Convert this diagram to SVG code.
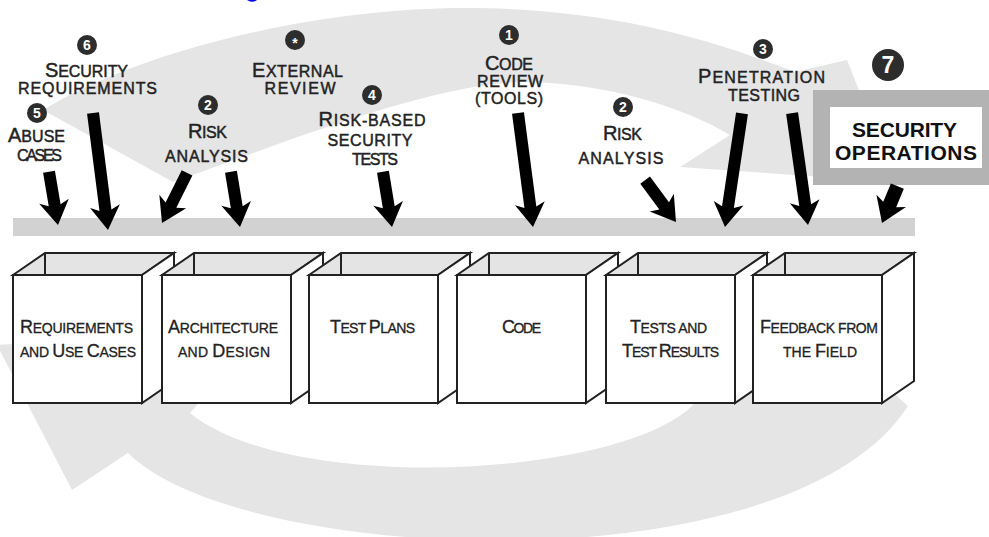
<svg xmlns="http://www.w3.org/2000/svg" width="989" height="537" viewBox="0 0 989 537">
<style>
  text { font-family: "Liberation Sans", Arial, sans-serif; fill: #222; }
  .lbl { font-size: 16px; text-anchor: middle; stroke: #222; stroke-width: 0.45px; }
  .bc { font-size: 20px; }
  .blbl { font-size: 14px; text-anchor: middle; stroke: #222; stroke-width: 0.3px; }
  .bb { font-size: 18px; }
  .band { fill: #e5e5e5; }
  .bar { fill: #d2d2d2; }
  .top { fill: #e4e4e4; stroke: #222; stroke-width: 2; stroke-linejoin: miter; }
  .face { fill: #fff; stroke: #222; stroke-width: 2; stroke-linejoin: miter; }
  .edge { stroke: #222; stroke-width: 2; }
  .num { fill: #2d2d2d; }
  .numt { fill: #fff; font-size: 14px; font-weight: bold; text-anchor: middle; }
  .arr { fill: #000; }
  .ops { font-size: 21px; font-weight: bold; text-anchor: middle; fill: #111; }
</style>

<g id="background">
  <path class="band" d="M43,110 C150,45 330,8 463,8 C600,8 700,35 795,72 L847,60 L895,182 L680,167 L730,135 C680,105 600,82 520,82 C430,85 290,140 173,182 Z"/>
  <path class="band" d="M-3,345 L72,490 L128,453 C240,565 790,590 908,406 L890,390 L700,390 L693,405 C620,478 290,495 190,413 L262,330 Z"/>
  <rect class="bar" x="13" y="218" width="902" height="18"/>
  <path d="M247,0 Q252,3.5 257,0 Z" fill="#0000ee"/>
</g>

<g id="box-requirements">
  <polygon class="top" points="13,275 45,253 174,253 142,275"/>
  <line class="edge" x1="45" y1="253" x2="45" y2="275"/>
  <polygon class="face" points="142,275 174,253 174,381 142,403"/>
  <rect class="face" x="13" y="275" width="129" height="128"/>
  <text class="blbl" x="76.5" y="333" textLength="113"><tspan class="bb">R</tspan>EQUIREMENTS</text>
  <text class="blbl" x="78" y="357" textLength="116">AND <tspan class="bb">U</tspan>SE <tspan class="bb">C</tspan>ASES</text>
</g>

<g id="box-architecture">
  <polygon class="top" points="162,275 194,253 323,253 291,275"/>
  <line class="edge" x1="194" y1="253" x2="194" y2="275"/>
  <polygon class="face" points="291,275 323,253 323,381 291,403"/>
  <rect class="face" x="162" y="275" width="129" height="128"/>
  <text class="blbl" x="223" y="333" textLength="110"><tspan class="bb">A</tspan>RCHITECTURE</text>
  <text class="blbl" x="224" y="357" textLength="92">AND <tspan class="bb">D</tspan>ESIGN</text>
</g>

<g id="box-testplans">
  <polygon class="top" points="309,275 341,253 470,253 438,275"/>
  <line class="edge" x1="341" y1="253" x2="341" y2="275"/>
  <polygon class="face" points="438,275 470,253 470,381 438,403"/>
  <rect class="face" x="309" y="275" width="129" height="128"/>
  <text class="blbl" x="372.5" y="333" textLength="85"><tspan class="bb">T</tspan>EST <tspan class="bb">P</tspan>LANS</text>
</g>

<g id="box-code">
  <polygon class="top" points="457,275 489,253 618,253 586,275"/>
  <line class="edge" x1="489" y1="253" x2="489" y2="275"/>
  <polygon class="face" points="586,275 618,253 618,381 586,403"/>
  <rect class="face" x="457" y="275" width="129" height="128"/>
  <text class="blbl" x="521.5" y="333" textLength="39"><tspan class="bb">C</tspan>ODE</text>
</g>

<g id="box-tests">
  <polygon class="top" points="606,275 638,253 767,253 735,275"/>
  <line class="edge" x1="638" y1="253" x2="638" y2="275"/>
  <polygon class="face" points="735,275 767,253 767,381 735,403"/>
  <rect class="face" x="606" y="275" width="129" height="128"/>
  <text class="blbl" x="668.5" y="333" textLength="77"><tspan class="bb">T</tspan>ESTS AND</text>
  <text class="blbl" x="670.5" y="357" textLength="97"><tspan class="bb">T</tspan>EST <tspan class="bb">R</tspan>ESULTS</text>
</g>

<g id="box-feedback">
  <polygon class="top" points="753,275 785,253 914,253 882,275"/>
  <line class="edge" x1="785" y1="253" x2="785" y2="275"/>
  <polygon class="face" points="882,275 914,253 914,381 882,403"/>
  <rect class="face" x="753" y="275" width="129" height="128"/>
  <text class="blbl" x="819" y="333" textLength="118"><tspan class="bb">F</tspan>EEDBACK FROM</text>
  <text class="blbl" x="820" y="357" textLength="74">THE <tspan class="bb">F</tspan>IELD</text>
</g>

<g id="label-security-requirements">
  <circle class="num" cx="87" cy="45" r="10"/>
  <text class="numt" x="87" y="50">6</text>
  <text class="lbl" x="86.5" y="77" textLength="83"><tspan class="bc">S</tspan>ECURITY</text>
  <text class="lbl" x="87.5" y="93.5" textLength="139">REQUIREMENTS</text>
</g>

<g id="label-abuse-cases">
  <circle class="num" cx="37" cy="113" r="10"/>
  <text class="numt" x="37" y="118">5</text>
  <text class="lbl" x="36.5" y="142" textLength="57"><tspan class="bc">A</tspan>BUSE</text>
  <text class="lbl" x="39.5" y="161" textLength="45">CASES</text>
</g>

<g id="label-risk-analysis-1">
  <circle class="num" cx="208" cy="105" r="10"/>
  <text class="numt" x="208" y="110">2</text>
  <text class="lbl" x="207.5" y="138" textLength="39"><tspan class="bc">R</tspan>ISK</text>
  <text class="lbl" x="206.5" y="162" textLength="83">ANALYSIS</text>
</g>

<g id="label-external-review">
  <circle class="num" cx="295" cy="40" r="10"/>
  <text class="numt" x="295" y="48">*</text>
  <text class="lbl" x="297.5" y="77" textLength="91"><tspan class="bc">E</tspan>XTERNAL</text>
  <text class="lbl" x="300" y="93.5" textLength="71">REVIEW</text>
</g>

<g id="label-risk-based-tests">
  <circle class="num" cx="372" cy="95" r="10"/>
  <text class="numt" x="372" y="100">4</text>
  <text class="lbl" x="372" y="126" textLength="107"><tspan class="bc">R</tspan>ISK-BASED</text>
  <text class="lbl" x="370" y="146" textLength="85">SECURITY</text>
  <text class="lbl" x="375" y="165" textLength="46">TESTS</text>
</g>

<g id="label-code-review">
  <circle class="num" cx="509" cy="35" r="10"/>
  <text class="numt" x="509" y="40">1</text>
  <text class="lbl" x="509" y="70" textLength="48"><tspan class="bc">C</tspan>ODE</text>
  <text class="lbl" x="510" y="87" textLength="66">REVIEW</text>
  <text class="lbl" x="509" y="104" textLength="68">(TOOLS)</text>
</g>

<g id="label-risk-analysis-2">
  <circle class="num" cx="623" cy="107" r="10"/>
  <text class="numt" x="623" y="112">2</text>
  <text class="lbl" x="622.5" y="140" textLength="39"><tspan class="bc">R</tspan>ISK</text>
  <text class="lbl" x="621" y="164" textLength="85">ANALYSIS</text>
</g>

<g id="label-penetration-testing">
  <circle class="num" cx="763" cy="49" r="10"/>
  <text class="numt" x="763" y="54">3</text>
  <text class="lbl" x="761.5" y="83" textLength="127"><tspan class="bc">P</tspan>ENETRATION</text>
  <text class="lbl" x="764" y="101" textLength="72">TESTING</text>
</g>

<g id="security-operations">
  <rect x="813" y="90" width="176" height="95" fill="#b3b3b3"/>
  <rect x="830" y="107" width="152" height="61" fill="#fff"/>
  <text class="ops" x="904.5" y="137" textLength="105">SECURITY</text>
  <text class="ops" x="906" y="160" textLength="142">OPERATIONS</text>
  <circle class="num" cx="888" cy="65" r="16"/>
  <text class="numt" x="888" y="73" style="font-size:23px">7</text>
</g>

<g id="connectors">
  <path class="arr" transform="translate(58,225) rotate(-9.6)" d="M-6,-54 L6,-54 L6,-20 L15,-24 L0,0 L-15,-24 L-6,-20 Z"/>
  <path class="arr" transform="translate(108,230) rotate(-7.3)" d="M-6,-118 L6,-118 L6,-20 L15,-24 L0,0 L-15,-24 L-6,-20 Z"/>
  <path class="arr" transform="translate(162,223) rotate(26.6)" d="M-6,-56 L6,-56 L6,-20 L15,-24 L0,0 L-15,-24 L-6,-20 Z"/>
  <path class="arr" transform="translate(240,227) rotate(-9.3)" d="M-6,-56 L6,-56 L6,-20 L15,-24 L0,0 L-15,-24 L-6,-20 Z"/>
  <path class="arr" transform="translate(392,227) rotate(-9.3)" d="M-6,-56 L6,-56 L6,-20 L15,-24 L0,0 L-15,-24 L-6,-20 Z"/>
  <path class="arr" transform="translate(533,227) rotate(-7.5)" d="M-6,-115 L6,-115 L6,-20 L15,-24 L0,0 L-15,-24 L-6,-20 Z"/>
  <path class="arr" transform="translate(676,222) rotate(-36.4)" d="M-6,-52 L6,-52 L6,-20 L15,-24 L0,0 L-15,-24 L-6,-20 Z"/>
  <path class="arr" transform="translate(725,227) rotate(8.5)" d="M-6,-115 L6,-115 L6,-20 L15,-24 L0,0 L-15,-24 L-6,-20 Z"/>
  <path class="arr" transform="translate(808,225) rotate(-8.1)" d="M-6,-113 L6,-113 L6,-20 L15,-24 L0,0 L-15,-24 L-6,-20 Z"/>
  <path class="arr" transform="translate(882,223) rotate(22.6)" d="M-7,-40 L7,-40 L7,-20 L16,-24 L0,0 L-16,-24 L-7,-20 Z"/>
</g>
</svg>
